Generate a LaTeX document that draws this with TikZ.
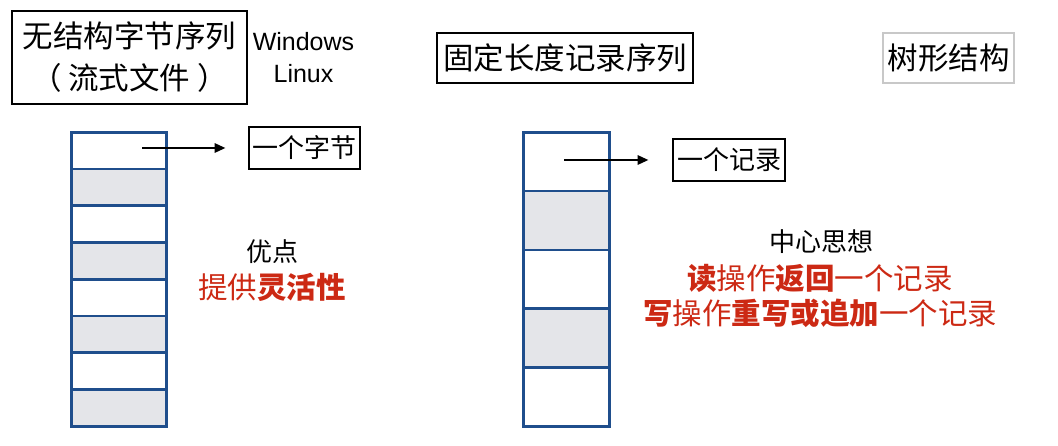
\documentclass[tikz,border=0pt]{standalone}
\usepackage{fontspec}
\setmainfont{Noto Sans CJK SC}
\newfontfamily\lat{Liberation Sans}
\usetikzlibrary{arrows.meta}
\definecolor{cellblue}{RGB}{31,78,140}
\definecolor{cellgray}{RGB}{228,229,233}
\definecolor{hired}{RGB}{204,41,20}
\definecolor{lightframe}{RGB}{200,200,200}
\begin{document}
\begin{tikzpicture}[x=1pt,y=-1pt,
  box/.style={draw=black, line width=2.7pt, inner sep=0pt, align=center},
  lcell/.style={draw=cellblue, line width=2.7pt, inner sep=0pt, anchor=north west, minimum width=95pt, minimum height=36.75pt},
  rcell/.style={draw=cellblue, line width=2.7pt, inner sep=0pt, anchor=north west, minimum width=86pt, minimum height=58.8pt},
  shaded/.style={fill=cellgray},
  arr/.style={-{Triangle[length=11pt,width=9pt]}, line width=2.7pt},
  big/.style={font=\fontsize{30.5}{42}\selectfont},
  mid/.style={font=\fontsize{26}{30}\selectfont},
  red/.style={font=\fontsize{29.5}{34}\selectfont, text=hired}
]
\useasboundingbox (0,0) rectangle (1058,446);
% top titles
\node[box, big, minimum width=235pt, minimum height=93pt] (t1) at (129.5,57.5) {无结构字节序列\\（ 流式文件 ）};
\node[font=\lat\fontsize{25}{32}\selectfont, align=center, inner sep=0pt] (wl) at (303.5,58) {Windows\\Linux};
\node[box, big, minimum width=256pt, minimum height=50pt] (t2) at (565,58) {固定长度记录序列};
\node[box, big, draw=lightframe, minimum width=131pt, minimum height=50pt] (t3) at (948.5,58) {树形结构};
% left stack
\node[lcell] (L1) at (70,131) {};
\node[lcell, shaded] (L2) at (70,167.75) {};
\node[lcell] (L3) at (70,204.5) {};
\node[lcell, shaded] (L4) at (70,241.25) {};
\node[lcell] (L5) at (70,278) {};
\node[lcell, shaded] (L6) at (70,314.75) {};
\node[lcell] (L7) at (70,351.5) {};
\node[lcell, shaded] (L8) at (70,388.25) {};
\node[box, mid, minimum width=111pt, minimum height=42pt] (b1) at (304.5,148) {一个字节};
\coordinate (la) at (142,148);
\draw[arr, shorten >=22pt] (la) -- (b1.west);
\node[mid] (yd) at (272,252) {优点};
\node[red] (tg) at (272,287) {提供\textbf{灵活性}};
% right stack
\node[rcell] (R1) at (522,131) {};
\node[rcell, shaded] (R2) at (522,189.8) {};
\node[rcell] (R3) at (522,248.6) {};
\node[rcell, shaded] (R4) at (522,307.4) {};
\node[rcell] (R5) at (522,366.2) {};
\node[box, mid, minimum width=112pt, minimum height=42pt] (b2) at (729,160) {一个记录};
\coordinate (ra) at (564,160);
\draw[arr, shorten >=23pt] (ra) -- (b2.west);
\node[mid] (zx) at (821,242) {中心思想};
\node[red] (r1) at (820,278) {\textbf{读}操作\textbf{返回}一个记录};
\node[red] (r2) at (820,313) {\textbf{写}操作\textbf{重写或追加}一个记录};
\end{tikzpicture}
\end{document}
